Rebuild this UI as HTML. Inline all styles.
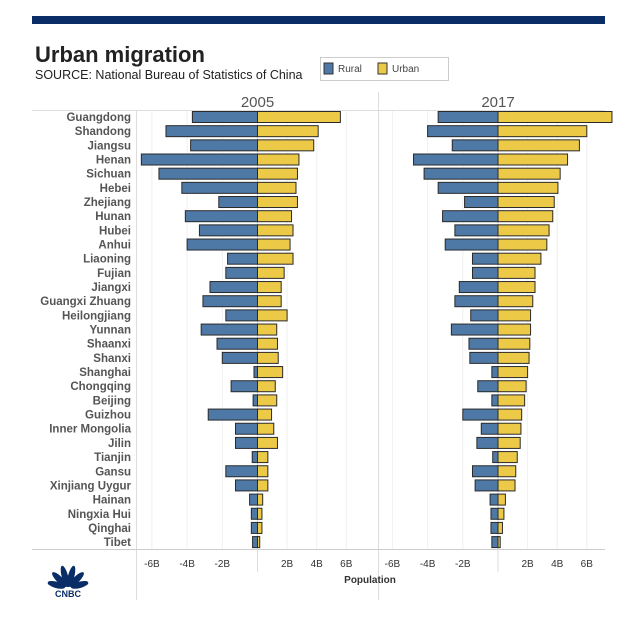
<!DOCTYPE html>
<html><head><meta charset="utf-8"><style>
body{margin:0;background:#fff;font-family:"Liberation Sans",sans-serif;}
svg text{font-family:"Liberation Sans",sans-serif;}
</style></head><body>
<svg width="641" height="629" xmlns="http://www.w3.org/2000/svg">
<rect x="32" y="16" width="573" height="8" fill="#0b2d67"/>
<text x="35" y="62" font-size="22" font-weight="bold" fill="#222">Urban migration</text>
<text x="35" y="79" font-size="12.5" fill="#222">SOURCE: National Bureau of Statistics of China</text>
<g>
<rect x="320.5" y="57.5" width="128" height="23" fill="#fff" stroke="#ccc"/>
<rect x="324" y="63" width="9" height="11" fill="#4e79a7" stroke="#333"/>
<text x="338" y="72" font-size="10" fill="#444">Rural</text>
<rect x="378" y="63" width="9" height="11" fill="#edc948" stroke="#333"/>
<text x="392" y="72" font-size="10" fill="#444">Urban</text>
</g>
<line x1="32" y1="110.5" x2="605" y2="110.5" stroke="#ddd"/>
<line x1="136.5" y1="110" x2="136.5" y2="600" stroke="#ddd"/>
<line x1="378.5" y1="92" x2="378.5" y2="600" stroke="#ddd"/>
<line x1="32" y1="549.5" x2="605" y2="549.5" stroke="#ccc"/>
<text x="370" y="583" font-size="10" font-weight="bold" fill="#333" text-anchor="middle">Population</text>
<g id="plot"></g>
<g>
<g fill="#0b2d67">
<ellipse cx="68" cy="576" rx="3.2" ry="9" transform="rotate(-75 68 588)"/>
<ellipse cx="68" cy="576" rx="3.2" ry="10" transform="rotate(-45 68 588)"/>
<ellipse cx="68" cy="576" rx="3.2" ry="11" transform="rotate(-15 68 588)"/>
<ellipse cx="68" cy="576" rx="3.2" ry="11" transform="rotate(15 68 588)"/>
<ellipse cx="68" cy="576" rx="3.2" ry="10" transform="rotate(45 68 588)"/>
<ellipse cx="68" cy="576" rx="3.2" ry="9" transform="rotate(75 68 588)"/>
</g>
<text x="68" y="597" font-size="9" font-weight="bold" fill="#0b2d67" text-anchor="middle">CNBC</text>
</g>
</svg>
<script>
const provinces=["Guangdong","Shandong","Jiangsu","Henan","Sichuan","Hebei","Zhejiang","Hunan","Hubei","Anhui","Liaoning","Fujian","Jiangxi","Guangxi Zhuang","Heilongjiang","Yunnan","Shaanxi","Shanxi","Shanghai","Chongqing","Beijing","Guizhou","Inner Mongolia","Jilin","Tianjin","Gansu","Xinjiang Uygur","Hainan","Ningxia Hui","Qinghai","Tibet"];
const rural2005=[3.7,5.2,3.8,6.6,5.6,4.3,2.2,4.1,3.3,4.0,1.7,1.8,2.7,3.1,1.8,3.2,2.3,2.0,0.2,1.5,0.25,2.8,1.25,1.25,0.3,1.8,1.25,0.45,0.35,0.35,0.28];
const urban2005=[5.6,4.1,3.8,2.8,2.7,2.6,2.7,2.3,2.4,2.2,2.4,1.8,1.6,1.6,2.0,1.3,1.35,1.4,1.7,1.2,1.3,0.95,1.1,1.35,0.7,0.7,0.7,0.35,0.3,0.3,0.15];
const rural2017=[3.4,4.0,2.6,4.8,4.2,3.4,1.9,3.15,2.45,3.0,1.45,1.45,2.2,2.45,1.55,2.65,1.65,1.6,0.35,1.15,0.35,2.0,0.95,1.2,0.3,1.45,1.3,0.45,0.4,0.4,0.35];
const urban2017=[7.7,6.0,5.5,4.7,4.2,4.05,3.8,3.7,3.45,3.3,2.9,2.5,2.5,2.35,2.2,2.2,2.15,2.1,2.0,1.9,1.8,1.6,1.55,1.5,1.3,1.2,1.15,0.5,0.4,0.3,0.15];
const tickValues=[-6,-4,-2,2,4,6];
const tickLabels=["-6B","-4B","-2B","2B","4B","6B"];
const NS="http://www.w3.org/2000/svg";
const plot=document.getElementById('plot');
function mk(tag,attrs,parent){const e=document.createElementNS(NS,tag);for(const k in attrs)e.setAttribute(k,attrs[k]);(parent||plot).appendChild(e);return e;}
function xScale(zero,v){return v<0?zero+v*17.6:zero+v*14.8;}
function yScale(i){return 117+i*14.17;}
provinces.forEach((p,i)=>{
  const t=mk('text',{x:131,y:yScale(i)+4,'font-size':11.5,'font-weight':'bold',fill:'#555','text-anchor':'end'});
  
  
  t.textContent=p;
});
const panels=[{zero:257.5,year:"2005",rural:rural2005,urban:urban2005},{zero:498,year:"2017",rural:rural2017,urban:urban2017}];
panels.forEach(pn=>{
  const h=mk('text',{x:pn.zero,y:107,'font-size':15,fill:'#555','text-anchor':'middle'});
  
  
  h.textContent=pn.year;
  tickValues.forEach((v,j)=>{
    const x=xScale(pn.zero,v);
    const g=mk('line',{x1:x,y1:111,x2:x,y2:549,stroke:'#f0f0f0'});
    
    
    const t=mk('text',{x:x,y:567,'font-size':10,fill:'#333','text-anchor':'middle'});
    
    
    t.textContent=tickLabels[j];
  });
  const z=mk('line',{x1:pn.zero,y1:111,x2:pn.zero,y2:572,stroke:'#ddd'});
  
  
  provinces.forEach((p,i)=>{
    const y=yScale(i)-5.5;
    const xr=xScale(pn.zero,-pn.rural[i]);
    const r=mk('rect',{x:xr,y:y,width:pn.zero-xr,height:11,fill:'#4e79a7',stroke:'#2a2a2a','stroke-width':1});
    
    
    const xu=xScale(pn.zero,pn.urban[i]);
    const u=mk('rect',{x:pn.zero,y:y,width:xu-pn.zero,height:11,fill:'#edc948',stroke:'#2a2a2a','stroke-width':1});
    
    
  });
});
</script>
</body></html>
